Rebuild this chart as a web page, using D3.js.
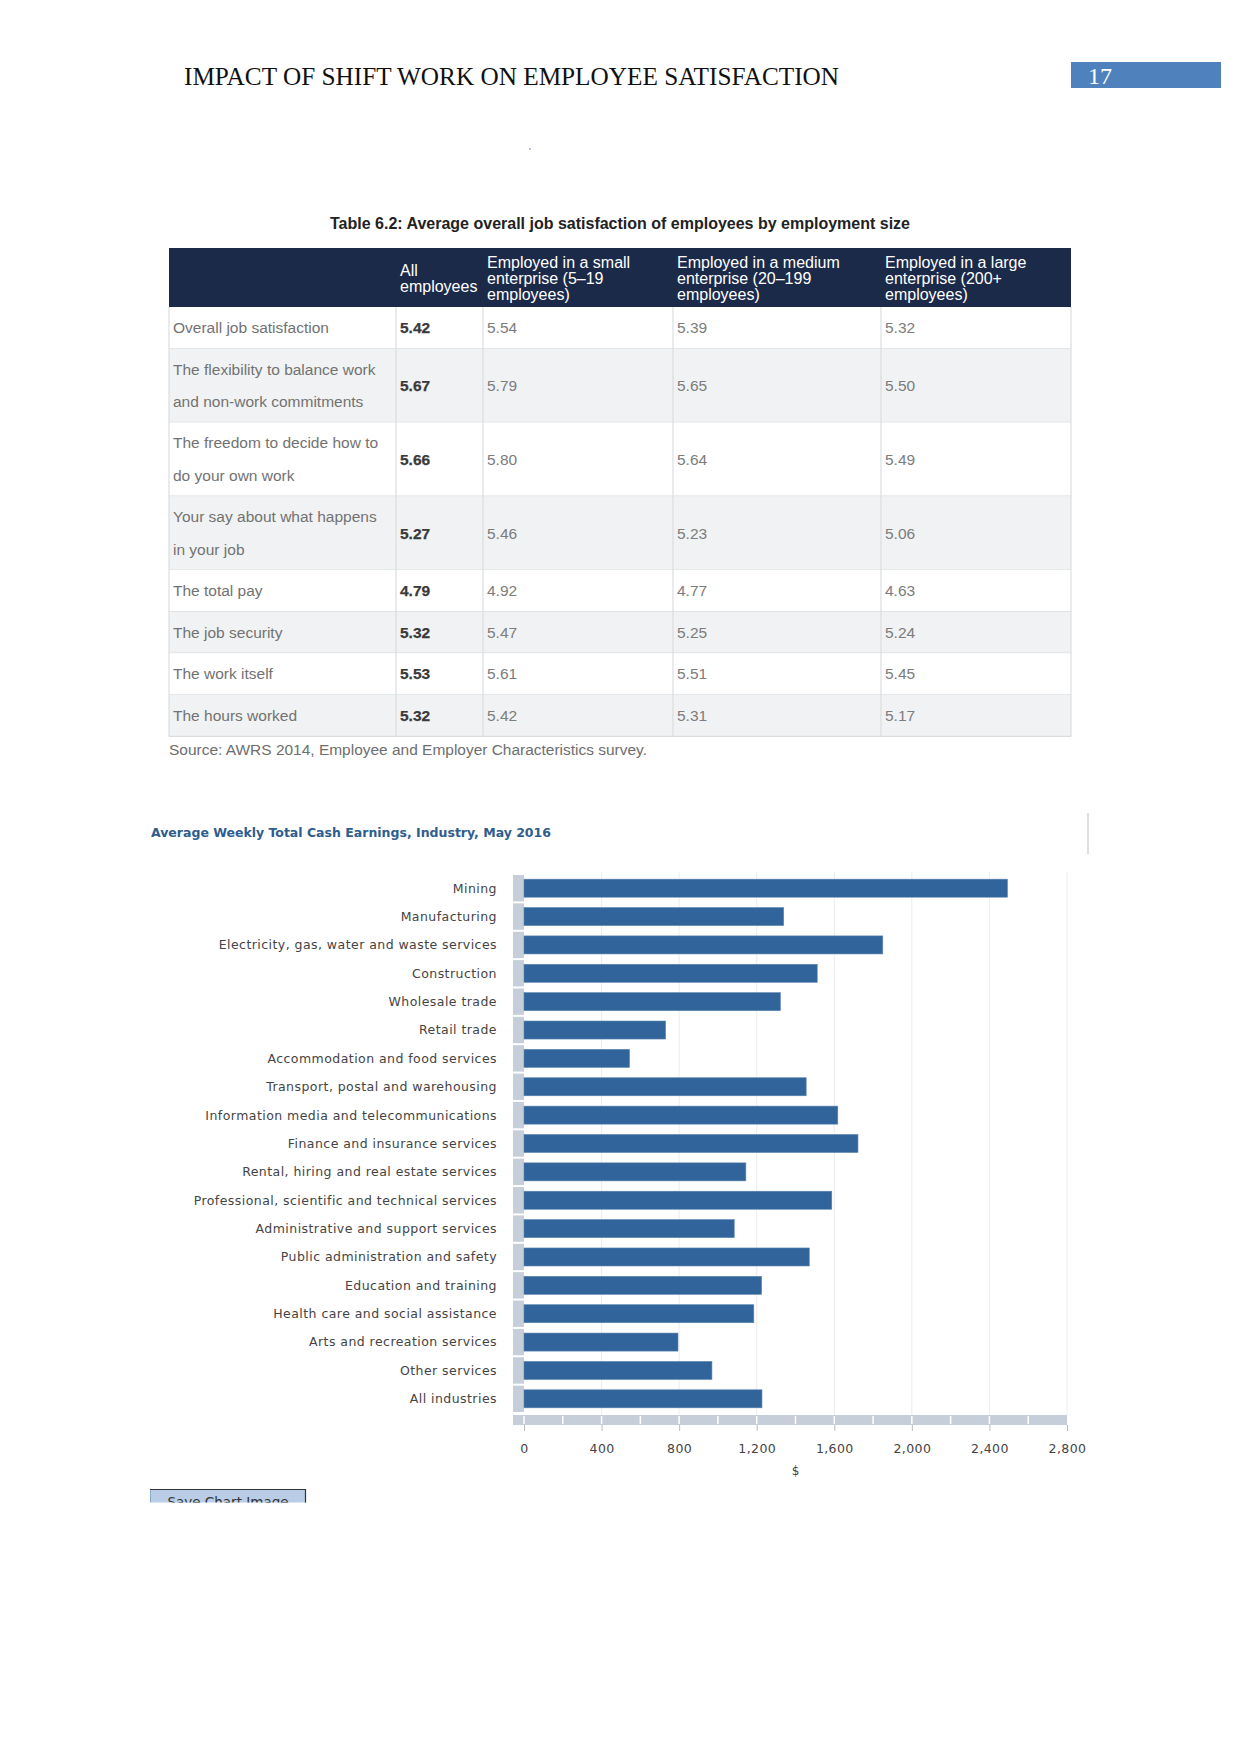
<!DOCTYPE html>
<html>
<head>
<meta charset="utf-8">
<script src="https://cdn.jsdelivr.net/npm/d3@7/dist/d3.min.js"></script>
<style>
html,body{margin:0;padding:0;background:#fff;}
svg{display:block;}
</style>
</head>
<body>
<script>
// ---------- DATA ----------
const pageTitle = "IMPACT OF SHIFT WORK ON EMPLOYEE SATISFACTION";
const pageNumber = "17";

const tableTitle = "Table 6.2: Average overall job satisfaction of employees by employment size";
const tableHeaders = [
  ["All", "employees"],
  ["Employed in a small", "enterprise (5–19", "employees)"],
  ["Employed in a medium", "enterprise (20–199", "employees)"],
  ["Employed in a large", "enterprise (200+", "employees)"]
];
const rowLabels = [
  ["Overall job satisfaction"],
  ["The flexibility to balance work", "and non-work commitments"],
  ["The freedom to decide how to", "do your own work"],
  ["Your say about what happens", "in your job"],
  ["The total pay"],
  ["The job security"],
  ["The work itself"],
  ["The hours worked"]
];
const allEmployees = ["5.42", "5.67", "5.66", "5.27", "4.79", "5.32", "5.53", "5.32"];
const smallEnterprise = ["5.54", "5.79", "5.80", "5.46", "4.92", "5.47", "5.61", "5.42"];
const mediumEnterprise = ["5.39", "5.65", "5.64", "5.23", "4.77", "5.25", "5.51", "5.31"];
const largeEnterprise = ["5.32", "5.50", "5.49", "5.06", "4.63", "5.24", "5.45", "5.17"];
const tableSource = "Source: AWRS 2014, Employee and Employer Characteristics survey.";

const chartTitle = "Average Weekly Total Cash Earnings, Industry, May 2016";
const industries = [
  "Mining", "Manufacturing", "Electricity, gas, water and waste services", "Construction",
  "Wholesale trade", "Retail trade", "Accommodation and food services",
  "Transport, postal and warehousing", "Information media and telecommunications",
  "Finance and insurance services", "Rental, hiring and real estate services",
  "Professional, scientific and technical services", "Administrative and support services",
  "Public administration and safety", "Education and training",
  "Health care and social assistance", "Arts and recreation services", "Other services",
  "All industries"
];
const earnings = [2493, 1339, 1850, 1512, 1322, 730, 544, 1455, 1618, 1722, 1144, 1587, 1084, 1471, 1225, 1185, 794, 969, 1227];
const xTicks = [0, 400, 800, 1200, 1600, 2000, 2400, 2800];
const xAxisLabel = "$";
const buttonLabel = "Save Chart Image";

// ---------- PAGE ----------
const W = 1241, H = 1754;
const svg = d3.select("body").append("svg").attr("width", W).attr("height", H);
svg.append("rect").attr("width", W).attr("height", H).attr("fill", "#fff");

svg.append("text").attr("x", 184).attr("y", 85)
  .attr("font-family", "'Liberation Serif', 'Times New Roman', serif")
  .attr("font-size", 26).attr("fill", "#111")
  .attr("textLength", 655).attr("lengthAdjust", "spacingAndGlyphs")
  .text(pageTitle);

svg.append("rect").attr("x", 1071).attr("y", 62).attr("width", 150).attr("height", 26).attr("fill", "#4f81bd");
svg.append("text").attr("x", 1088).attr("y", 84)
  .attr("font-family", "'Liberation Serif', serif").attr("font-size", 24).attr("fill", "#fff")
  .text(pageNumber);

svg.append("circle").attr("cx", 530).attr("cy", 149).attr("r", 0.8).attr("fill", "#6060d0");

// ---------- TABLE ----------
const sans = "'Liberation Sans', Arial, Helvetica, sans-serif";
svg.append("text").attr("x", 330).attr("y", 229)
  .attr("font-family", sans).attr("font-weight", "bold").attr("font-size", 16).attr("fill", "#222")
  .attr("textLength", 580).attr("lengthAdjust", "spacingAndGlyphs")
  .text(tableTitle);

const colX = [169, 396, 483, 673, 881, 1071];
const headerTop = 248, headerBottom = 307;
svg.append("rect").attr("x", colX[0]).attr("y", headerTop)
  .attr("width", colX[5] - colX[0]).attr("height", headerBottom - headerTop).attr("fill", "#1c2a4a");

const headerG = svg.append("g").attr("font-family", sans).attr("font-size", 16).attr("fill", "#fff");
tableHeaders.forEach((lines, i) => {
  const cx = colX[i + 1] + 4;
  const lh = 16;
  const top = (headerTop + headerBottom) / 2 - (lines.length - 1) * lh / 2 + 1;
  headerG.selectAll(null).data(lines).join("text")
    .attr("x", cx).attr("y", (d, j) => top + j * lh).attr("dy", "0.35em")
    .text(d => d);
});

// rows
const singleH = 41.6, doubleH = 73.8;
let yCursor = headerBottom;
const rows = rowLabels.map((lab, i) => {
  const h = lab.length > 1 ? doubleH : singleH;
  const r = {lab, y: yCursor, h, vals: [allEmployees[i], smallEnterprise[i], mediumEnterprise[i], largeEnterprise[i]], i};
  yCursor += h;
  return r;
});
const tableBottom = yCursor;

const rowG = svg.append("g").selectAll("g").data(rows).join("g");
rowG.append("rect").attr("x", colX[0]).attr("y", d => d.y)
  .attr("width", colX[5] - colX[0]).attr("height", d => d.h)
  .attr("fill", d => d.i % 2 === 1 ? "#f1f2f3" : "#ffffff");
rowG.append("line").attr("x1", colX[0]).attr("x2", colX[5])
  .attr("y1", d => d.y + d.h).attr("y2", d => d.y + d.h)
  .attr("stroke", "#dadde0").attr("stroke-width", 1.2);

rowG.each(function(d) {
  const g = d3.select(this);
  const cy = d.y + d.h / 2;
  const lh = 32.5;
  g.selectAll("text.lab").data(d.lab).join("text").attr("class", "lab")
    .attr("x", colX[0] + 4)
    .attr("y", (t, j) => cy - (d.lab.length - 1) * lh / 2 + j * lh)
    .attr("dy", "0.35em")
    .attr("font-family", sans).attr("font-size", 15.5).attr("fill", "#727272")
    .text(t => t);
  g.selectAll("text.val").data(d.vals).join("text").attr("class", "val")
    .attr("x", (v, k) => colX[k + 1] + 4)
    .attr("y", cy).attr("dy", "0.35em")
    .attr("font-family", sans)
    .attr("fill", (v, k) => k === 0 ? "#3a3a3a" : "#7c7c7c")
    .attr("font-weight", (v, k) => k === 0 ? "600" : "normal")
    .attr("font-size", 15.5)
    .attr("stroke", (v, k) => k === 0 ? "#3a3a3a" : "none")
    .attr("stroke-width", (v, k) => k === 0 ? 0.25 : 0)
    .text(v => v);
});

// vertical borders
svg.append("g").selectAll("line").data(colX).join("line")
  .attr("x1", d => d).attr("x2", d => d)
  .attr("y1", headerBottom)
  .attr("y2", tableBottom)
  .attr("stroke", "#dadde0").attr("stroke-width", 1.2);

svg.append("text").attr("x", 169).attr("y", 750).attr("dy", "0.35em")
  .attr("font-family", sans).attr("font-size", 15.5).attr("fill", "#6e6e6e")
  .attr("textLength", 478).attr("lengthAdjust", "spacingAndGlyphs")
  .text(tableSource);

// ---------- BAR CHART ----------
const verd = "'DejaVu Sans', Verdana, sans-serif";
svg.append("text").attr("x", 151).attr("y", 837)
  .attr("font-family", "'DejaVu Sans Condensed', 'DejaVu Sans', sans-serif")
  .attr("font-weight", "bold").attr("font-size", 12.5).attr("fill", "#2e5d8e")
  .attr("textLength", 400).attr("lengthAdjust", "spacingAndGlyphs")
  .text(chartTitle);

svg.append("line").attr("x1", 1088).attr("x2", 1088).attr("y1", 813).attr("y2", 854)
  .attr("stroke", "#c8c8c8").attr("stroke-width", 1.2);

const x = d3.scaleLinear().domain([0, 2800]).range([524, 1067]);
const y = d3.scaleBand().domain(industries).range([874, 1413]).paddingInner(0.365).paddingOuter(0.1825);
const step = y.step();

// gridlines
svg.append("g").selectAll("line").data(xTicks.filter(t => t > 0)).join("line")
  .attr("x1", d => x(d)).attr("x2", d => x(d))
  .attr("y1", 872).attr("y2", 1415)
  .attr("stroke", "#ececf0").attr("stroke-width", 1);

// gray stubs
svg.append("g").selectAll("rect").data(industries).join("rect")
  .attr("x", 513).attr("width", 11)
  .attr("y", d => y(d) - (step - y.bandwidth()) / 2 + 1)
  .attr("height", step - 2)
  .attr("fill", "#c6ced9");

// bars
svg.append("g").selectAll("rect").data(industries).join("rect")
  .attr("x", x(0)).attr("y", d => y(d))
  .attr("width", (d, i) => x(earnings[i]) - x(0))
  .attr("height", y.bandwidth())
  .attr("fill", "#30649a")
  .attr("stroke", "#5a84b0").attr("stroke-width", 0.6);

// category labels
svg.append("g").selectAll("text").data(industries).join("text")
  .attr("x", 497).attr("y", d => y(d) + y.bandwidth() / 2).attr("dy", "0.35em")
  .attr("text-anchor", "end")
  .attr("font-family", verd).attr("font-size", 12.5).attr("fill", "#444")
  .attr("letter-spacing", 0.45)
  .text(d => d);

// axis band
const bandTop = 1415, bandH = 10;
svg.append("rect").attr("x", 513).attr("y", bandTop).attr("width", x(2800) - 513).attr("height", bandH).attr("fill", "#c6ced9");
svg.append("g").selectAll("line").data(d3.range(0, 2800, 200)).join("line")
  .attr("x1", d => x(d)).attr("x2", d => x(d))
  .attr("y1", bandTop + 1).attr("y2", bandTop + bandH - 1)
  .attr("stroke", "#ffffff").attr("stroke-width", 1.5);

const axisG = svg.append("g").attr("transform", `translate(0,${bandTop + bandH})`)
  .call(d3.axisBottom(x).tickValues(xTicks).tickSize(6).tickPadding(13).tickFormat(d3.format(",")));
axisG.select(".domain").remove();
axisG.selectAll(".tick line").attr("stroke", "#bbb");
axisG.selectAll(".tick text").attr("font-family", verd).attr("font-size", 12.5).attr("fill", "#444").attr("letter-spacing", 0.4);

svg.append("text").attr("x", x(1400)).attr("y", 1471).attr("dy", "0.35em").attr("text-anchor", "middle")
  .attr("font-family", verd).attr("font-size", 12).attr("fill", "#444").text(xAxisLabel);

// Save chart image button (cut off at page)
const defs = svg.append("defs");
defs.append("clipPath").attr("id", "btnclip").append("rect").attr("x", 148).attr("y", 1486).attr("width", 160).attr("height", 16.5);
const btn = svg.append("g").attr("clip-path", "url(#btnclip)");
btn.append("rect").attr("x", 150.5).attr("y", 1489.5).attr("width", 155).attr("height", 22)
  .attr("fill", "#b9cde6").attr("stroke", "#8aa6c8").attr("stroke-width", 1);
btn.append("line").attr("x1", 150).attr("x2", 306).attr("y1", 1489.5).attr("y2", 1489.5).attr("stroke", "#333").attr("stroke-width", 1.2);
btn.append("line").attr("x1", 305.5).attr("x2", 305.5).attr("y1", 1489).attr("y2", 1503).attr("stroke", "#333").attr("stroke-width", 1.2);
btn.append("text").attr("x", 228).attr("y", 1507).attr("text-anchor", "middle")
  .attr("font-family", verd).attr("font-size", 13.5).attr("fill", "#333").text(buttonLabel);
</script>
</body>
</html>
